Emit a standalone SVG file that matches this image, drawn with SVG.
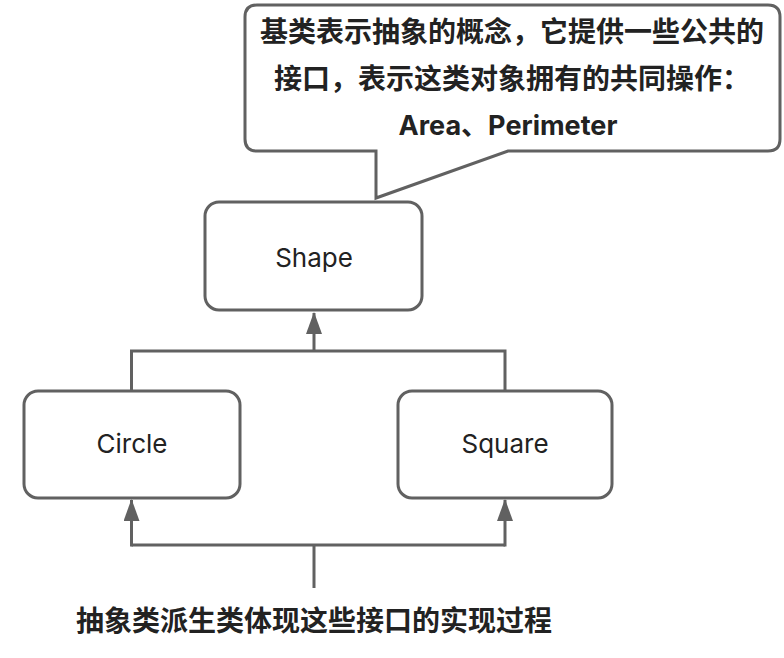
<svg xmlns="http://www.w3.org/2000/svg" width="784" height="658" viewBox="0 0 784 658">
<style>
.box{fill:#fff;stroke:#616161;stroke-width:3}
.ln{fill:none;stroke:#616161;stroke-width:3}
.lbl{font-family:Inter,"Liberation Sans","Noto Sans CJK SC",sans-serif;font-size:26px;fill:#222;text-anchor:middle}
.cn{font-family:"Noto Sans CJK SC","Noto Sans",sans-serif;font-weight:700;font-size:28px;fill:#222;text-anchor:middle}
.en{font-family:Inter,"Noto Sans CJK SC",sans-serif;font-weight:700;font-size:27px;fill:#222;text-anchor:middle}
</style>
<defs>
<marker id="arr" viewBox="0 0 22 16" refX="21" refY="8" markerWidth="22" markerHeight="16" markerUnits="userSpaceOnUse" orient="auto">
<path d="M0,0 L22,8 L0,16 Z" fill="#616161"/>
</marker>
</defs>
<rect width="784" height="658" fill="#fff"/>
<g id="callout">
<path class="box" d="M257,5 H768 Q780,5 780,17 V139 Q780,151 768,151 H508 L376,198 V151 H257 Q245,151 245,139 V17 Q245,5 257,5 Z"/>
<text class="cn" x="512" y="42">基类表示抽象的概念，它提供一些公共的</text>
<text class="cn" x="512" y="89">接口，表示这类对象拥有的共同操作：</text>
<text class="en" x="508" y="135">Area、Perimeter</text>
</g>
<g id="shape">
<rect class="box" x="205" y="202" width="217" height="108" rx="14"/>
<text class="lbl" x="314" y="267">Shape</text>
</g>
<g id="circle">
<rect class="box" x="24" y="391" width="216" height="107" rx="14"/>
<text class="lbl" x="132" y="453">Circle</text>
</g>
<g id="square">
<rect class="box" x="398" y="391" width="214" height="107" rx="14"/>
<text class="lbl" x="505" y="453">Square</text>
</g>
<g id="connectors">
<path class="ln" d="M131.5,391 V351 H505 V391"/>
<path class="ln" d="M314,351 V313" marker-end="url(#arr)"/>
<path class="ln" d="M314,588 V545"/>
<path class="ln" d="M131.5,545 H505"/>
<path class="ln" d="M131.5,546.5 V500" marker-end="url(#arr)"/>
<path class="ln" d="M505,546.5 V500" marker-end="url(#arr)"/>
</g>
<g id="caption">
<text class="cn" x="314" y="631">抽象类派生类体现这些接口的实现过程</text>
</g>
</svg>
